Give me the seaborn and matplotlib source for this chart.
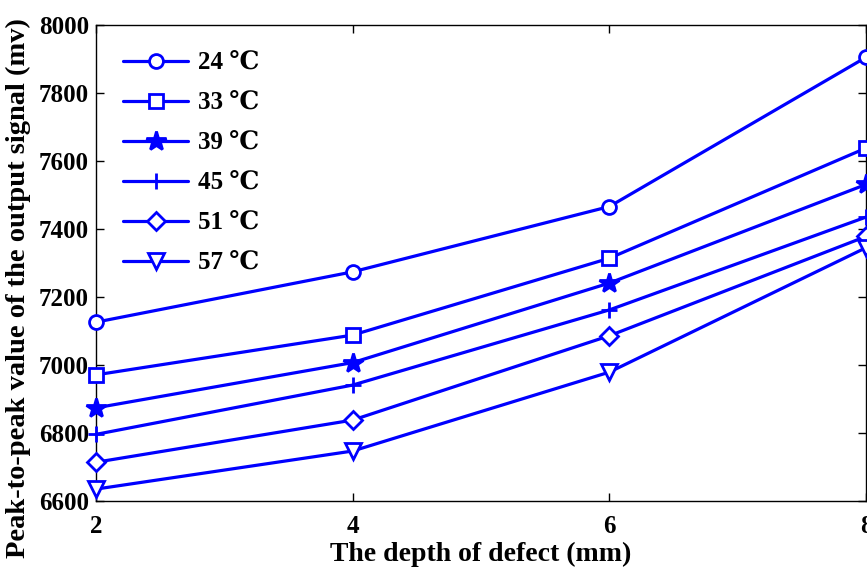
import matplotlib
matplotlib.use("Agg")
import matplotlib.pyplot as plt
import seaborn as sns
import pandas as pd

depth = [2, 4, 6, 8]
labels = ["24 ℃", "33 ℃", "39 ℃", "45 ℃", "51 ℃", "57 ℃"]
v24 = [7126, 7274, 7466, 7905]
v33 = [6971, 7088, 7314, 7638]
v39 = [6874, 7007, 7241, 7531]
v45 = [6796, 6941, 7162, 7435]
v51 = [6714, 6838, 7086, 7378]
v57 = [6635, 6747, 6979, 7345]
series = [v24, v33, v39, v45, v51, v57]
marker_list = ["o", "s", "*", "+", "D", "v"]

rows = []
for lab, vals in zip(labels, series):
    for d, v in zip(depth, vals):
        rows.append({"depth": d, "value": v, "temp": lab})
df = pd.DataFrame(rows)

sns.set_theme(style="ticks")
plt.rcParams['font.family'] = ['Liberation Serif', 'DejaVu Serif', 'DejaVu Sans']
plt.rcParams['font.weight'] = 'bold'
for k in ['text.color', 'axes.labelcolor', 'xtick.color', 'ytick.color', 'axes.edgecolor']:
    plt.rcParams[k] = 'black'

fig = plt.figure(figsize=(8.67, 5.68), dpi=100)
ax = fig.add_axes([96/867, 1 - 501/568, (866 - 96)/867, (501 - 25)/568])

blue = (0, 0, 1)
sizes = {"o": 10, "s": 10, "*": 15, "+": 12, "D": 9.5, "v": 11}
for lab, mk in zip(labels, marker_list):
    sub = df[df["temp"] == lab]
    sns.lineplot(data=sub, x="depth", y="value", ax=ax, color=blue,
                 marker=mk, markersize=sizes[mk], markeredgewidth=2,
                 markerfacecolor=(blue if mk == "*" else "white"),
                 markeredgecolor=blue, linewidth=2.3, label=lab,
                 clip_on=False, zorder=3)

ax.set_xlim(2, 8)
ax.set_ylim(6600, 8000)
ax.set_xticks([2, 4, 6, 8])
ax.set_yticks(list(range(6600, 8001, 200)))
ax.tick_params(direction="in", top=True, right=True, length=6, width=1,
               labelsize=18, color="black")
ax.tick_params(axis="x", pad=10)
ax.tick_params(axis="y", pad=5)
for lbl in ax.get_xticklabels() + ax.get_yticklabels():
    lbl.set_fontweight("bold")
for sp in ax.spines.values():
    sp.set_linewidth(1)
    sp.set_color("black")

ax.set_xlabel("The depth of defect (mm)", fontsize=20, fontweight="bold", labelpad=3)
ax.set_ylabel("Peak-to-peak value of the output signal (mv)", fontsize=20.5,
              fontweight="bold", labelpad=2)
ax.yaxis.set_label_coords(-0.084, 0.447)

leg = ax.legend(loc="upper left", frameon=False, fontsize=18, handlelength=2.6,
                handletextpad=0.4, labelspacing=0.68, borderaxespad=0.0,
                borderpad=0.0, bbox_to_anchor=(27/770, 1 - 27/476))
for t in leg.get_texts():
    t.set_fontweight("bold")

fig.savefig("out.png", dpi=100)
